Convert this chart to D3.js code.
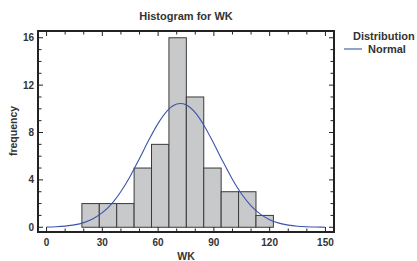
<!DOCTYPE html>
<html>
<head>
<meta charset="utf-8">
<script src="https://cdn.jsdelivr.net/npm/d3@7"></script>
<style>
  body { margin: 0; background: #fff; }
  text { font-family: 'Liberation Sans', Arial, sans-serif; font-weight: bold; fill: #333; }
</style>
</head>
<body>
<div id="chart"></div>
<script>
// histogram bins (WK)
const binEdges = [19, 28.36, 37.73, 47.09, 56.45, 65.82, 75.18, 84.55, 93.91, 103.27, 112.64, 122];
const binCounts = [2, 2, 2, 5, 7, 16, 11, 5, 3, 3, 1];

// fitted normal curve
const curveX = [0, 5, 10, 15, 20, 25, 30, 35, 40, 45, 50, 55, 60, 65, 70, 72, 75, 80, 85, 90, 95, 100, 105, 110, 115, 120, 125, 130, 135, 140, 145, 150];
const curveY = [0.02, 0.045, 0.1, 0.2, 0.39, 0.72, 1.23, 1.98, 3.02, 4.31, 5.81, 7.36, 8.77, 9.85, 10.4, 10.45, 10.34, 9.67, 8.51, 7.05, 5.5, 4.04, 2.79, 1.81, 1.11, 0.64, 0.35, 0.18, 0.085, 0.04, 0.016, 0.006];

const xTicks = [0, 30, 60, 90, 120, 150];
const yTicks = [0, 4, 8, 12, 16];

const W = 417, H = 261;
const margin = { top: 31, right: 83, bottom: 29, left: 38 },
    width = W - margin.left - margin.right,
    height = H - margin.top - margin.bottom;

const svg = d3.select('#chart').append('svg')
    .attr('width', W)
    .attr('height', H);

const g = svg.append('g')
    .attr('transform', `translate(${margin.left},${margin.top})`);

const x = d3.scaleLinear().domain([-4.6, 154.6]).range([0, width]);
const y = d3.scaleLinear().domain([-0.4, 16.57]).range([height, 0]);

// bars
const bins = binCounts.map((c, i) => ({ x0: binEdges[i], x1: binEdges[i + 1], c }));
g.selectAll('rect.bar')
    .data(bins)
    .join('rect')
    .attr('class', 'bar')
    .attr('x', (d) => x(d.x0))
    .attr('y', (d) => y(d.c))
    .attr('width', (d) => x(d.x1) - x(d.x0))
    .attr('height', (d) => y(0) - y(d.c))
    .attr('fill', '#c8c9cb')
    .attr('stroke', '#3a3a3a')
    .attr('stroke-width', 1);

// normal curve
const line = d3.line()
    .curve(d3.curveMonotoneX)
    .x((d) => x(d[0]))
    .y((d) => y(d[1]));
g.append('path')
    .datum(curveX.map((v, i) => [v, curveY[i]]))
    .attr('d', line)
    .attr('fill', 'none')
    .attr('stroke', '#3b55a8')
    .attr('stroke-width', 1.1);

// inward ticks on all four sides
const minorX = d3.range(0, 151, 10);
const minorY = d3.range(0, 17, 1);
const tickG = g.append('g').attr('stroke', '#222').attr('stroke-width', 1);
minorX.forEach((v) => {
    const len = v % 30 === 0 ? 5 : 3.5;
    tickG.append('line').attr('x1', x(v)).attr('x2', x(v)).attr('y1', height).attr('y2', height - len);
    tickG.append('line').attr('x1', x(v)).attr('x2', x(v)).attr('y1', 0).attr('y2', len);
});
minorY.forEach((v) => {
    const len = v % 4 === 0 ? 5 : 3.5;
    tickG.append('line').attr('x1', 0).attr('x2', len).attr('y1', y(v)).attr('y2', y(v));
    tickG.append('line').attr('x1', width).attr('x2', width - len).attr('y1', y(v)).attr('y2', y(v));
});

// frame
g.append('rect')
    .attr('x', 0).attr('y', 0)
    .attr('width', width).attr('height', height)
    .attr('fill', 'none')
    .attr('stroke', '#222')
    .attr('stroke-width', 2);

// tick labels
g.selectAll('text.xt')
    .data(xTicks)
    .join('text')
    .attr('class', 'xt')
    .attr('x', (d) => x(d))
    .attr('y', height + 14)
    .attr('text-anchor', 'middle')
    .attr('font-size', 10)
    .text((d) => d);
g.selectAll('text.yt')
    .data(yTicks)
    .join('text')
    .attr('class', 'yt')
    .attr('x', -4)
    .attr('y', (d) => y(d) + 3.6)
    .attr('text-anchor', 'end')
    .attr('font-size', 10)
    .text((d) => d);

// title and axis labels
svg.append('text')
    .attr('x', margin.left + width / 2)
    .attr('y', 20)
    .attr('text-anchor', 'middle')
    .attr('font-size', 11)
    .text('Histogram for WK');
svg.append('text')
    .attr('x', margin.left + width / 2)
    .attr('y', 259.5)
    .attr('text-anchor', 'middle')
    .attr('font-size', 10.5)
    .text('WK');
svg.append('text')
    .attr('transform', 'translate(17,131) rotate(-90)')
    .attr('text-anchor', 'middle')
    .attr('font-size', 10.5)
    .text('frequency');

// legend
svg.append('text')
    .attr('x', 353)
    .attr('y', 40)
    .attr('font-size', 11)
    .text('Distribution');
svg.append('line')
    .attr('x1', 344).attr('x2', 362)
    .attr('y1', 49).attr('y2', 49)
    .attr('stroke', '#3b55a8')
    .attr('stroke-width', 1.1);
svg.append('text')
    .attr('x', 368)
    .attr('y', 52.5)
    .attr('font-size', 11)
    .text('Normal');
</script>
</body>
</html>
